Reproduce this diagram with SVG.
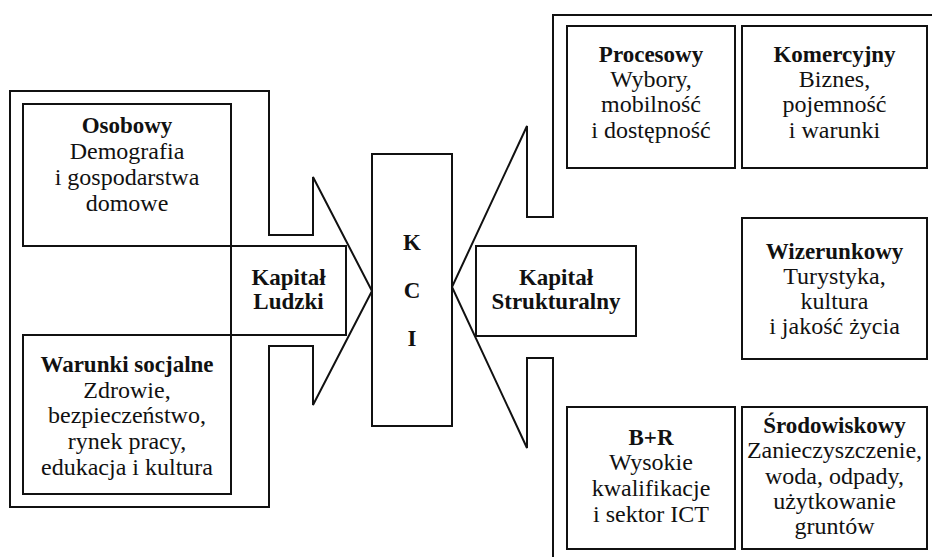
<svg xmlns="http://www.w3.org/2000/svg" width="932" height="557" viewBox="0 0 932 557">
<style>
  .shape { fill: #fff; stroke: #111; stroke-width: 2; stroke-linejoin: miter; }
  .open { fill: none; stroke: #111; stroke-width: 2; stroke-linejoin: miter; }
  text { font-family: "Liberation Serif", "Times New Roman", serif; fill: #111; text-anchor: middle; }
  .b { font-weight: bold; font-size: 23px; }
  .r { font-size: 24px; }
</style>
<rect width="932" height="557" fill="#fff"/>
<g id="connectors">
  <polygon id="arrow-human" class="shape" points="10,91 269,91 269,235 313,235 313,177 372,291 313,405 313,346 269,346 269,507 10,507"/>
  <polyline id="arrow-structural" class="open" points="932,15 553,15 553,217 527,217 527,126 452,287 527,448 527,358 553,358 553,557"/>
</g>
<g id="osobowy">
  <rect class="shape" x="23" y="104" width="208" height="142"/>
  <text class="b" x="127" y="133">Osobowy</text>
  <text class="r" x="127" y="159">Demografia</text>
  <text class="r" x="127" y="185">i gospodarstwa</text>
  <text class="r" x="127" y="211">domowe</text>
</g>
<g id="kapital-ludzki">
  <rect class="shape" x="231" y="246" width="115" height="89"/>
  <text class="b" x="288.5" y="285">Kapitał</text>
  <text class="b" x="288.5" y="309">Ludzki</text>
</g>
<g id="warunki-socjalne">
  <rect class="shape" x="23" y="335" width="208" height="159"/>
  <text class="b" x="127" y="372">Warunki socjalne</text>
  <text class="r" x="127" y="398">Zdrowie,</text>
  <text class="r" x="127" y="423">bezpieczeństwo,</text>
  <text class="r" x="127" y="449">rynek pracy,</text>
  <text class="r" x="127" y="475">edukacja i kultura</text>
</g>
<g id="kci">
  <rect class="shape" x="372" y="154" width="80" height="272"/>
  <text class="b" x="412" y="250">K</text>
  <text class="b" x="412" y="298">C</text>
  <text class="b" x="412" y="346">I</text>
</g>
<g id="kapital-strukturalny">
  <rect class="shape" x="476" y="246" width="160" height="90"/>
  <text class="b" x="556" y="285">Kapitał</text>
  <text class="b" x="556" y="309">Strukturalny</text>
</g>
<g id="procesowy">
  <rect class="shape" x="567" y="26" width="168" height="142"/>
  <text class="b" x="651" y="62">Procesowy</text>
  <text class="r" x="651" y="87">Wybory,</text>
  <text class="r" x="651" y="112">mobilność</text>
  <text class="r" x="651" y="138">i dostępność</text>
</g>
<g id="komercyjny">
  <rect class="shape" x="742" y="26" width="185" height="142"/>
  <text class="b" x="834.5" y="62">Komercyjny</text>
  <text class="r" x="834.5" y="87">Biznes,</text>
  <text class="r" x="834.5" y="112">pojemność</text>
  <text class="r" x="834.5" y="138">i warunki</text>
</g>
<g id="wizerunkowy">
  <rect class="shape" x="742" y="218" width="185" height="141"/>
  <text class="b" x="834.5" y="259">Wizerunkowy</text>
  <text class="r" x="834.5" y="284">Turystyka,</text>
  <text class="r" x="834.5" y="309">kultura</text>
  <text class="r" x="834.5" y="334">i jakość życia</text>
</g>
<g id="b-r">
  <rect class="shape" x="567" y="407" width="168" height="142"/>
  <text class="b" x="651" y="445">B+R</text>
  <text class="r" x="651" y="470">Wysokie</text>
  <text class="r" x="651" y="496">kwalifikacje</text>
  <text class="r" x="651" y="522">i sektor ICT</text>
</g>
<g id="srodowiskowy">
  <rect class="shape" x="742" y="407" width="185" height="142"/>
  <text class="b" x="834.5" y="433">Środowiskowy</text>
  <text class="r" x="834.5" y="458">Zanieczyszczenie,</text>
  <text class="r" x="834.5" y="484">woda, odpady,</text>
  <text class="r" x="834.5" y="509">użytkowanie</text>
  <text class="r" x="834.5" y="534">gruntów</text>
</g>
</svg>
